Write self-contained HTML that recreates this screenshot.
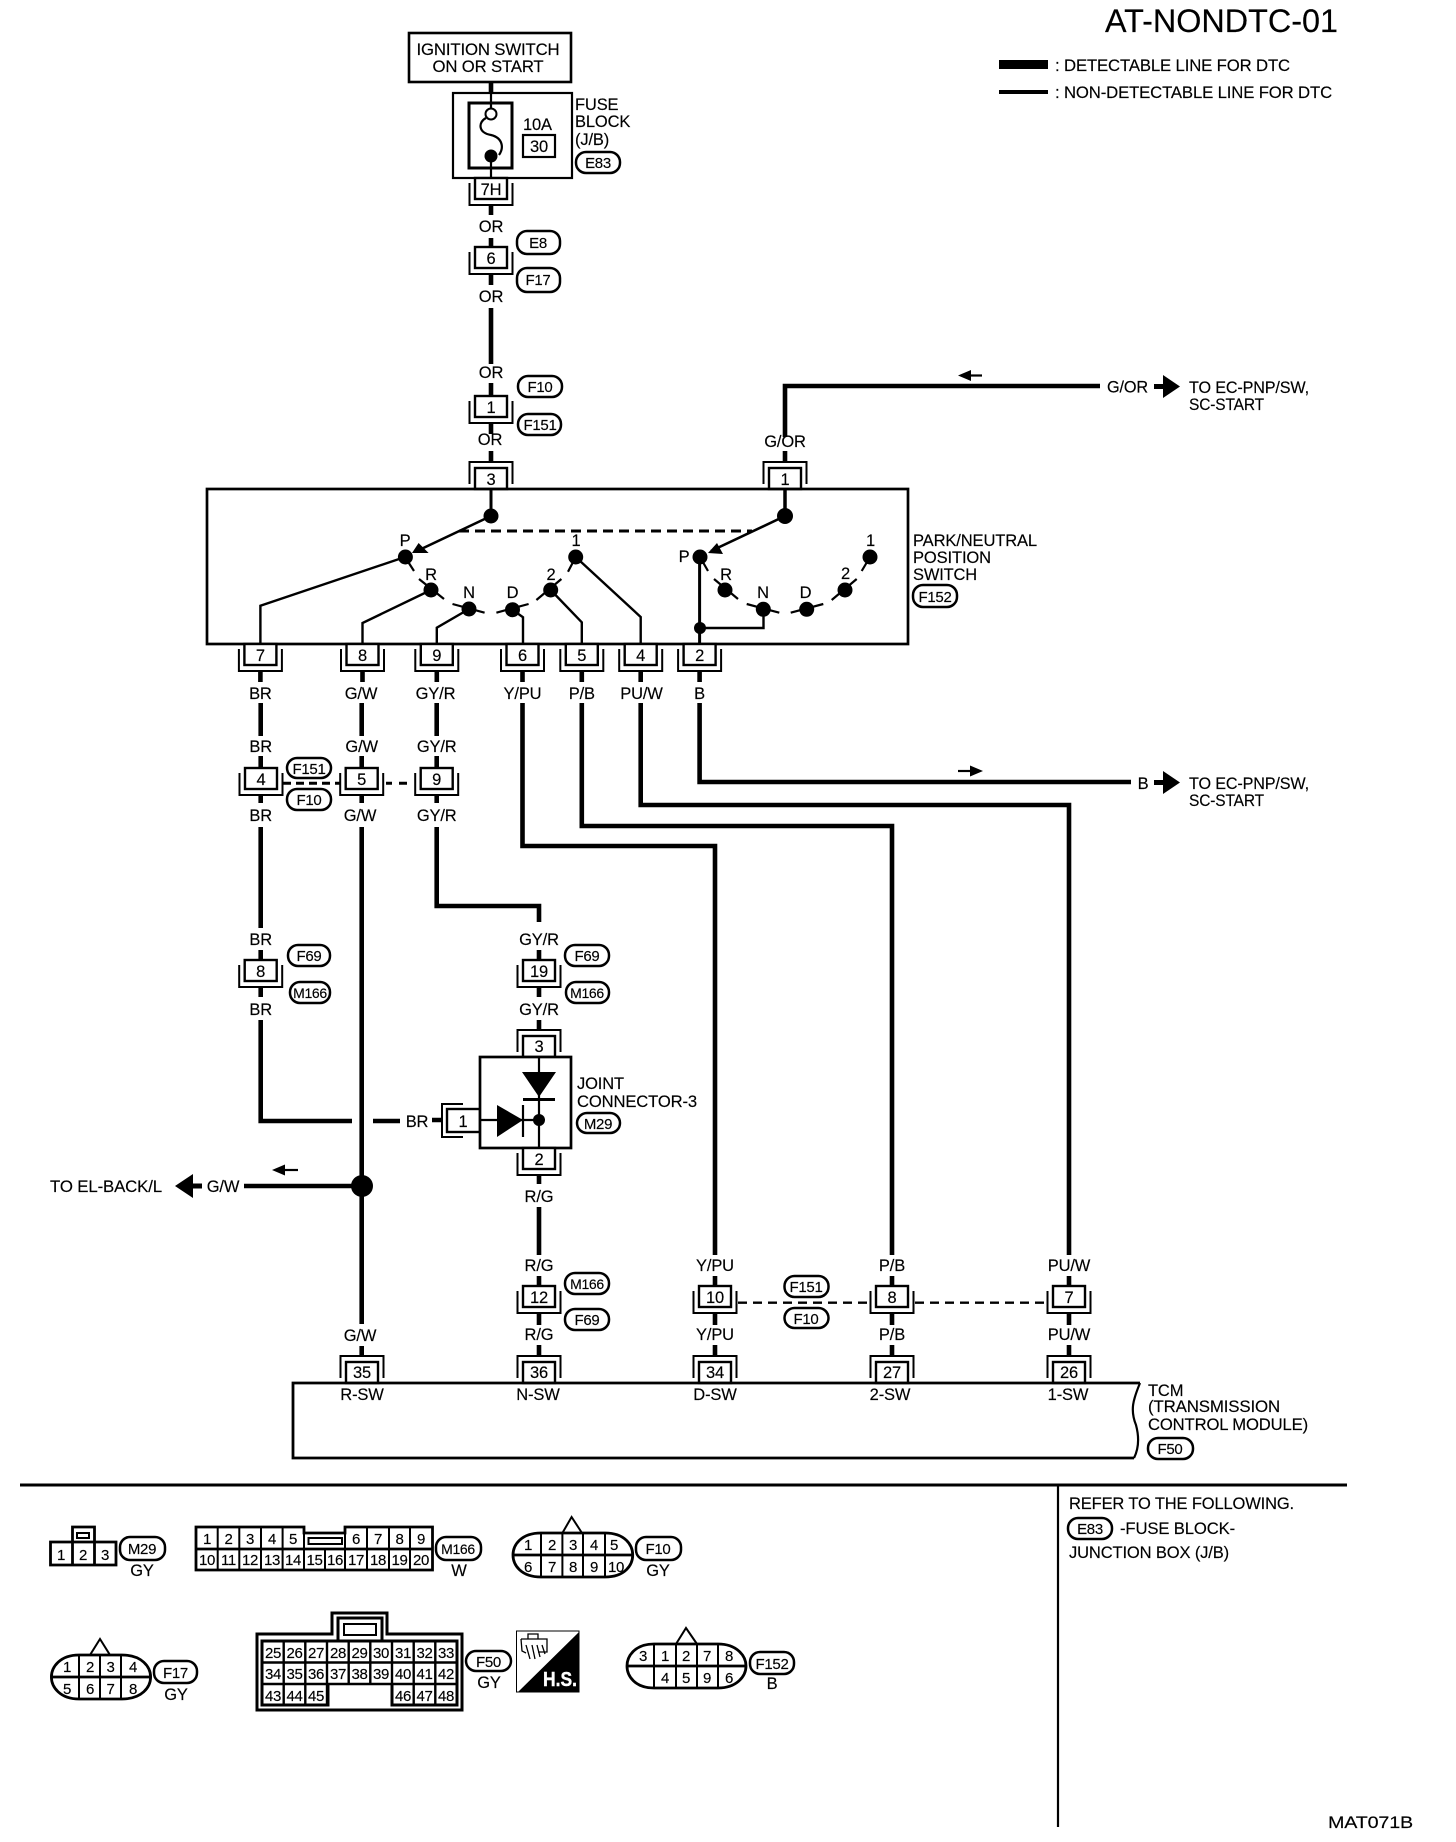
<!DOCTYPE html>
<html>
<head>
<meta charset="utf-8">
<style>
html,body{margin:0;padding:0;background:#fff}
svg{display:block}
text{font-family:"Liberation Sans",sans-serif;font-size:16.5px;letter-spacing:-.15px;fill:#000;stroke:#000;stroke-width:.15px}
.m{text-anchor:middle}
.s{font-size:15px;letter-spacing:-.3px}
.w{fill:none;stroke:#000;stroke-width:4.6}
.t{fill:none;stroke:#000;stroke-width:2.2}
.b{fill:none;stroke:#000;stroke-width:3}
.p{fill:#fff;stroke:#000;stroke-width:2.5}
.d{fill:#000;stroke:none}
.c rect{fill:#fff;stroke:#000;stroke-width:2.4}
.c path{fill:none;stroke:#000;stroke-width:2}
</style>
</head>
<body>
<svg xmlns="http://www.w3.org/2000/svg" width="1456" height="1842" viewBox="0 0 1456 1842">
<defs>
<g id="cd" class="c"><path d="M-21.5,5V27H21.5V5"/><rect x="-16" y="0" width="32" height="21"/></g>
<g id="cu" class="c"><path d="M-21.5,-5V-27H21.5V-5"/><rect x="-16" y="-21" width="32" height="21"/></g>
</defs>

<!-- header -->
<text x="1105" y="32" style="font-size:32px;letter-spacing:0" textLength="233" lengthAdjust="spacingAndGlyphs">AT-NONDTC-01</text>
<rect x="999" y="60" width="49" height="9" class="d"/>
<text x="1055" y="71" textLength="235" lengthAdjust="spacingAndGlyphs">: DETECTABLE LINE FOR DTC</text>
<rect x="999" y="90" width="49" height="4" class="d"/>
<text x="1055" y="98" textLength="277" lengthAdjust="spacingAndGlyphs">: NON-DETECTABLE LINE FOR DTC</text>

<!-- ignition + fuse -->
<rect x="409" y="33" width="162" height="49" fill="#fff" stroke="#000" stroke-width="2.6"/>
<text x="488" y="55" class="m" textLength="143" lengthAdjust="spacingAndGlyphs">IGNITION SWITCH</text>
<text x="488" y="72" class="m" textLength="111" lengthAdjust="spacingAndGlyphs">ON OR START</text>
<path d="M491,82V93" class="w"/>
<rect x="453" y="93" width="119" height="85" fill="#fff" stroke="#000" stroke-width="2.2"/>
<rect x="469" y="103" width="43" height="65" fill="#fff" stroke="#000" stroke-width="3"/>
<path d="M491,93V108M491,156V178" class="t"/>
<circle cx="491" cy="114" r="5.5" fill="#fff" stroke="#000" stroke-width="2"/>
<path d="M486,118C478,122 478,133 491,135C503,138 504,148 499,155" class="t"/>
<circle cx="491" cy="156" r="6.5" class="d"/>
<text x="523" y="130">10A</text>
<rect x="523" y="135" width="32" height="22" fill="#fff" stroke="#000" stroke-width="2.2"/>
<text x="539" y="152" class="m">30</text>
<text x="575" y="110">FUSE</text>
<text x="575" y="127">BLOCK</text>
<text x="575" y="145">(J/B)</text>
<rect x="576" y="152" width="44" height="21" rx="10" class="p"/>
<text x="598" y="168" class="m s">E83</text>

<!-- top wire OR -->
<use href="#cd" x="491" y="178"/>
<text x="491" y="195" class="m">7H</text>
<path d="M491,205V215M491,238V247" class="w"/>
<text x="491" y="232" class="m">OR</text>
<use href="#cd" x="491" y="247"/>
<text x="491" y="264" class="m">6</text>
<rect x="517" y="231" width="43" height="23" rx="10" class="p"/>
<text x="538" y="248" class="m s">E8</text>
<rect x="517" y="268" width="43" height="24" rx="10" class="p"/>
<text x="538" y="285" class="m s">F17</text>
<path d="M491,274V285M491,308V364" class="w"/>
<text x="491" y="302" class="m">OR</text>
<text x="491" y="378" class="m">OR</text>
<path d="M491,383V396" class="w"/>
<use href="#cd" x="491" y="396"/>
<text x="491" y="413" class="m">1</text>
<rect x="518" y="376" width="44" height="21" rx="10" class="p"/>
<text x="540" y="392" class="m s">F10</text>
<rect x="518" y="414" width="43" height="21" rx="10" class="p"/>
<text x="540" y="430" class="m s">F151</text>
<path d="M491,423V434M491,451V462" class="w"/>
<text x="490" y="445" class="m">OR</text>

<!-- G/OR -->
<path d="M785,437V386H1100M785,451V462" class="w"/>
<text x="785" y="447" class="m">G/OR</text>
<text x="1107" y="392.5" textLength="41" lengthAdjust="spacingAndGlyphs">G/OR</text>
<path d="M1154,384H1163V375L1180,386.5L1163,398V389H1154Z" class="d"/>
<text x="1189" y="393" textLength="120" lengthAdjust="spacingAndGlyphs">TO EC-PNP/SW,</text>
<text x="1189" y="410" textLength="75" lengthAdjust="spacingAndGlyphs">SC-START</text>
<path d="M982,375.5H968" class="t"/>
<path d="M958,375.5L971,370V381Z" class="d"/>

<!-- switch -->
<use href="#cu" x="491" y="489"/>
<text x="491" y="485" class="m">3</text>
<use href="#cu" x="785" y="489"/>
<text x="785" y="485" class="m">1</text>
<rect x="207" y="489" width="701" height="155" fill="none" stroke="#000" stroke-width="2.7"/>
<path d="M491,489V516" class="b"/>
<path d="M785,489V516" class="b" style="stroke-width:3.5"/>
<circle cx="491" cy="516" r="7.5" class="d"/>
<circle cx="785" cy="516" r="8" class="d"/>
<path d="M491,516L417,551M785,516L711,551" class="t" style="stroke-width:2.6"/>
<path d="M412,553L418.6,543L428.6,553Z M708,553L717,543L723,554Z" class="d"/>
<path d="M459,531H752" fill="none" stroke="#000" stroke-width="3" stroke-dasharray="10 6"/>
<!-- contacts -->
<g class="d">
<circle cx="405.4" cy="557" r="7.5"/><circle cx="431" cy="590" r="7.5"/><circle cx="469" cy="609" r="7.5"/>
<circle cx="512.5" cy="609.7" r="7.5"/><circle cx="550.7" cy="590" r="7.5"/><circle cx="575.7" cy="557" r="7.5"/>
<circle cx="700" cy="557" r="7.5"/><circle cx="725" cy="590" r="7.5"/><circle cx="763.3" cy="609.3" r="7.5"/>
<circle cx="806.7" cy="609.3" r="7.5"/><circle cx="845" cy="590" r="7.5"/><circle cx="870" cy="557" r="7.5"/>
<circle cx="700" cy="628" r="6"/>
</g>
<path d="M405,557L414,571M419,579L444,599M452.5,604L484.6,612.7M496.4,612.7L528.6,604M536.4,600L561.4,579M575.7,557L568,571.7" class="t"/>
<path d="M700,557L708,571M714,579L738,599M746.7,604L779.3,612.7M790.7,612.7L823.3,604M831.7,600L856.7,579M870,557L861.7,571" class="t"/>
<path d="M405,557L260.4,605.7V644M431,590L362.5,623V644M469,609L436.8,627.7V644M512.5,609.7L523,617.3V644M550.7,590L581.8,622.3V644M575.7,557L640.7,617V644" class="t" style="stroke-width:2.4"/>
<path d="M699.6,557V644" class="b"/>
<path d="M700,628H763.5V609" class="t" style="stroke-width:2.4"/>
<text x="405" y="546" class="m">P</text>
<text x="431" y="580" class="m">R</text>
<text x="469" y="598" class="m">N</text>
<text x="512.5" y="598" class="m">D</text>
<text x="551" y="580" class="m">2</text>
<text x="576" y="546" class="m">1</text>
<text x="684" y="562" class="m">P</text>
<text x="726" y="580" class="m">R</text>
<text x="763" y="598" class="m">N</text>
<text x="805.5" y="598" class="m">D</text>
<text x="845.5" y="579" class="m">2</text>
<text x="870.5" y="546" class="m">1</text>
<text x="913" y="546" textLength="124" lengthAdjust="spacingAndGlyphs">PARK/NEUTRAL</text>
<text x="913" y="563" textLength="78" lengthAdjust="spacingAndGlyphs">POSITION</text>
<text x="913" y="580" textLength="64" lengthAdjust="spacingAndGlyphs">SWITCH</text>
<rect x="913" y="585" width="44" height="22" rx="10" class="p"/>
<text x="935" y="602" class="m s">F152</text>

<!-- connectors under switch -->
<use href="#cd" x="260.4" y="644"/><text x="260.4" y="661" class="m">7</text>
<use href="#cd" x="362.5" y="644"/><text x="362.5" y="661" class="m">8</text>
<use href="#cd" x="436.8" y="644"/><text x="436.8" y="661" class="m">9</text>
<use href="#cd" x="522.5" y="644"/><text x="522.5" y="661" class="m">6</text>
<use href="#cd" x="581.8" y="644"/><text x="581.8" y="661" class="m">5</text>
<use href="#cd" x="640.7" y="644"/><text x="640.7" y="661" class="m">4</text>
<use href="#cd" x="699.6" y="644"/><text x="699.6" y="661" class="m">2</text>
<path d="M260.4,671V682M362.5,671V682M436.8,671V682M522.5,671V682M581.8,671V682M640.7,671V682M699.6,671V682" class="w"/>
<text x="260.4" y="699" class="m">BR</text>
<text x="361" y="699" class="m">G/W</text>
<text x="435.5" y="699" class="m">GY/R</text>
<text x="522.5" y="699" class="m">Y/PU</text>
<text x="581.8" y="699" class="m">P/B</text>
<text x="641.5" y="699" class="m">PU/W</text>
<text x="699.6" y="699" class="m">B</text>

<!-- B wire -->
<path d="M699.6,703V782H1131" class="w"/>
<text x="1143" y="789" class="m">B</text>
<path d="M1154,780H1163V771L1180,782.5L1163,794V785H1154Z" class="d"/>
<text x="1189" y="789" textLength="120" lengthAdjust="spacingAndGlyphs">TO EC-PNP/SW,</text>
<text x="1189" y="806" textLength="75" lengthAdjust="spacingAndGlyphs">SC-START</text>
<path d="M958,771H972" class="t"/>
<path d="M983,771L970,765.5V776.5Z" class="d"/>

<!-- long wires -->
<path d="M522.5,703V846H715V1255" class="w"/>
<path d="M581.8,703V826H892V1255" class="w"/>
<path d="M640.7,703V805H1069V1255" class="w"/>

<!-- row 4/5/9 -->
<path d="M260.7,703V736M361.7,703V736M436.7,703V736M260.7,756V767M361.7,756V767M436.7,756V767M260.7,794V803M361.7,794V803M436.7,794V803" class="w"/>
<text x="260.7" y="752" class="m">BR</text>
<text x="361.7" y="752" class="m">G/W</text>
<text x="436.7" y="752" class="m">GY/R</text>
<use href="#cd" x="261" y="768"/><text x="261" y="785" class="m">4</text>
<use href="#cd" x="361.7" y="768"/><text x="361.7" y="785" class="m">5</text>
<use href="#cd" x="436.7" y="768"/><text x="436.7" y="785" class="m">9</text>
<path d="M283,783.3H340" fill="none" stroke="#000" stroke-width="3" stroke-dasharray="8 5"/>
<path d="M386,783.3H392M399,783.3H407" fill="none" stroke="#000" stroke-width="3"/>
<rect x="287" y="758" width="44" height="20" rx="10" class="p"/>
<text x="309" y="774" class="m s">F151</text>
<rect x="287" y="789" width="44" height="21" rx="10" class="p"/>
<text x="309" y="805" class="m s">F10</text>
<text x="260.7" y="821" class="m">BR</text>
<text x="360" y="821" class="m">G/W</text>
<text x="436.7" y="821" class="m">GY/R</text>

<!-- BR down -->
<path d="M260.7,827V928M260.7,950V960M260.7,987V997M260.7,1020V1121H352M373,1121H400M432,1120H443" class="w"/>
<text x="260.7" y="945" class="m">BR</text>
<use href="#cd" x="260.7" y="960"/><text x="260.7" y="977" class="m">8</text>
<rect x="288" y="945" width="42" height="21" rx="10" class="p"/>
<text x="309" y="961" class="m s">F69</text>
<rect x="290" y="982" width="40" height="21" rx="10" class="p"/>
<text x="310" y="998" class="m s" style="font-size:14px">M166</text>
<text x="260.7" y="1015" class="m">BR</text>
<text x="417" y="1127" class="m">BR</text>

<!-- G/W -->
<path d="M361.7,827V1324M361.7,1346V1355M362,1186H244" class="w"/>
<circle cx="362" cy="1186" r="11" class="d"/>
<text x="223" y="1192" class="m">G/W</text>
<path d="M202,1183.5H193V1174L175,1186L193,1198V1188.5H202Z" class="d"/>
<text x="50" y="1192" textLength="112" lengthAdjust="spacingAndGlyphs">TO EL-BACK/L</text>
<path d="M298,1170H284" class="t"/>
<path d="M272,1170L285,1164.5V1175.5Z" class="d"/>
<text x="360" y="1341" class="m">G/W</text>

<!-- GY/R -->
<path d="M436.7,827V906H539V922M539,950V960M539,987V997M539,1020V1030" class="w"/>
<text x="539" y="945" class="m">GY/R</text>
<use href="#cd" x="539" y="960"/><text x="539" y="977" class="m">19</text>
<rect x="565" y="945" width="44" height="21" rx="10" class="p"/>
<text x="587" y="961" class="m s">F69</text>
<rect x="566" y="982" width="43" height="21" rx="10" class="p"/>
<text x="587" y="998" class="m s" style="font-size:14px">M166</text>
<text x="539" y="1015" class="m">GY/R</text>

<!-- joint connector -->
<use href="#cu" x="539" y="1057"/><text x="539" y="1052" class="m">3</text>
<g class="c">
<path d="M463,1104H442V1137H463"/>
<rect x="447" y="1109" width="33" height="23"/>
</g>
<text x="463" y="1127" class="m">1</text>
<rect x="480" y="1057" width="91" height="91" fill="#fff" stroke="#000" stroke-width="2.7"/>
<path d="M539,1057V1148M480,1120H539" class="t"/>
<path d="M522,1072H556L539,1097Z M497,1105V1137L523,1120Z" class="d"/>
<path d="M523,1099.5H555" class="b"/>
<path d="M523,1105V1137" class="t"/>
<circle cx="539" cy="1120" r="6" class="d"/>
<text x="577" y="1089">JOINT</text>
<text x="577" y="1107" textLength="120" lengthAdjust="spacingAndGlyphs">CONNECTOR-3</text>
<rect x="577" y="1113" width="43" height="20" rx="10" class="p"/>
<text x="598" y="1129" class="m s">M29</text>
<use href="#cd" x="539" y="1148"/><text x="539" y="1165" class="m">2</text>
<path d="M539,1175V1184M539,1207V1255M539,1276V1286M539,1313V1325M539,1345V1355" class="w"/>
<text x="539" y="1202" class="m">R/G</text>

<!-- row 12/10/8/7 -->
<text x="539" y="1271" class="m">R/G</text>
<text x="715" y="1271" class="m">Y/PU</text>
<text x="892" y="1271" class="m">P/B</text>
<text x="1069" y="1271" class="m">PU/W</text>
<path d="M715,1276V1286M892,1276V1286M1069,1276V1286M715,1313V1325M892,1313V1325M1069,1313V1325M715,1345V1355M892,1345V1355M1069,1345V1355" class="w"/>
<use href="#cd" x="539" y="1286"/><text x="539" y="1303" class="m">12</text>
<use href="#cd" x="715" y="1286"/><text x="715" y="1303" class="m">10</text>
<use href="#cd" x="892" y="1286"/><text x="892" y="1303" class="m">8</text>
<use href="#cd" x="1069" y="1286"/><text x="1069" y="1303" class="m">7</text>
<path d="M738,1302.7H870M915,1302.7H1045" fill="none" stroke="#000" stroke-width="2.4" stroke-dasharray="9 6"/>
<rect x="565" y="1273" width="44" height="21" rx="10" class="p"/>
<text x="587" y="1289" class="m s" style="font-size:14px">M166</text>
<rect x="565" y="1309" width="44" height="21" rx="10" class="p"/>
<text x="587" y="1325" class="m s">F69</text>
<rect x="784.5" y="1276" width="44" height="21" rx="10" class="p"/>
<text x="806" y="1292" class="m s">F151</text>
<rect x="784.5" y="1308" width="44" height="20" rx="10" class="p"/>
<text x="806" y="1324" class="m s">F10</text>
<text x="539" y="1340" class="m">R/G</text>
<text x="715" y="1340" class="m">Y/PU</text>
<text x="892" y="1340" class="m">P/B</text>
<text x="1069" y="1340" class="m">PU/W</text>

<!-- TCM -->
<use href="#cu" x="362" y="1383"/><text x="362" y="1378" class="m">35</text>
<use href="#cu" x="539" y="1383"/><text x="539" y="1378" class="m">36</text>
<use href="#cu" x="715" y="1383"/><text x="715" y="1378" class="m">34</text>
<use href="#cu" x="892" y="1383"/><text x="892" y="1378" class="m">27</text>
<use href="#cu" x="1069" y="1383"/><text x="1069" y="1378" class="m">26</text>
<path d="M1140,1383H293V1458H1134" fill="none" stroke="#000" stroke-width="2.8"/>
<path d="M1140,1383C1133,1400 1130,1410 1136,1425C1140,1440 1138,1450 1134,1458" class="t"/>
<text x="362" y="1400" class="m">R-SW</text>
<text x="538" y="1400" class="m">N-SW</text>
<text x="715" y="1400" class="m">D-SW</text>
<text x="890" y="1400" class="m">2-SW</text>
<text x="1068" y="1400" class="m">1-SW</text>
<text x="1148" y="1396">TCM</text>
<text x="1148" y="1412" textLength="132" lengthAdjust="spacingAndGlyphs">(TRANSMISSION</text>
<text x="1148" y="1430" textLength="160" lengthAdjust="spacingAndGlyphs">CONTROL MODULE)</text>
<rect x="1148" y="1438" width="45" height="21" rx="10" class="p"/>
<text x="1170" y="1454" class="m s">F50</text>

<!-- separators -->
<path d="M20,1485H1347" class="b"/>
<path d="M1058,1485V1827" class="t"/>
<text x="1069" y="1509" textLength="225" lengthAdjust="spacingAndGlyphs">REFER TO THE FOLLOWING.</text>
<rect x="1068" y="1518" width="44" height="21" rx="10" class="p"/>
<text x="1090" y="1534" class="m s">E83</text>
<text x="1120" y="1534" textLength="115" lengthAdjust="spacingAndGlyphs">-FUSE BLOCK-</text>
<text x="1069" y="1558" textLength="160" lengthAdjust="spacingAndGlyphs">JUNCTION BOX (J/B)</text>
<text x="1328" y="1828" textLength="85" lengthAdjust="spacingAndGlyphs">MAT071B</text>

<!-- M29 -->
<path d="M50.5,1542H116V1565H50.5ZM72.5,1542V1527H94.5V1542M72.5,1542V1565M94.5,1542V1565" fill="none" stroke="#000" stroke-width="2.8"/>
<rect x="77" y="1533" width="12" height="5" fill="none" stroke="#000" stroke-width="2"/>
<text x="61" y="1560" class="m s">1</text><text x="83" y="1560" class="m s">2</text><text x="105" y="1560" class="m s">3</text>
<rect x="120" y="1537" width="45" height="23" rx="10" class="p"/>
<text x="142" y="1554" class="m s">M29</text>
<text x="142" y="1576" class="m">GY</text>

<!-- M166 -->
<path d="M196,1527H304V1533H345V1527H432.5V1570H196ZM196,1549H432.5" fill="none" stroke="#000" stroke-width="2.8"/>
<path d="M217.7,1527V1570M239.3,1527V1570M261,1527V1570M282.6,1527V1570M304,1533V1570M325,1549V1570M345,1533V1570M367,1527V1570M389,1527V1570M410,1527V1570" fill="none" stroke="#000" stroke-width="2"/>
<rect x="308.5" y="1538" width="33.5" height="6" fill="none" stroke="#000" stroke-width="2"/>
<text x="207" y="1544" class="m s">1</text><text x="228.5" y="1544" class="m s">2</text><text x="250" y="1544" class="m s">3</text><text x="272" y="1544" class="m s">4</text><text x="293" y="1544" class="m s">5</text>
<text x="356" y="1544" class="m s">6</text><text x="378" y="1544" class="m s">7</text><text x="399.5" y="1544" class="m s">8</text><text x="421" y="1544" class="m s">9</text>
<text x="207" y="1565" class="m s">10</text><text x="228.5" y="1565" class="m s">11</text><text x="250" y="1565" class="m s">12</text><text x="272" y="1565" class="m s">13</text><text x="293" y="1565" class="m s">14</text><text x="314.5" y="1565" class="m s">15</text><text x="335" y="1565" class="m s">16</text><text x="356" y="1565" class="m s">17</text><text x="378" y="1565" class="m s">18</text><text x="399.5" y="1565" class="m s">19</text><text x="421" y="1565" class="m s">20</text>
<rect x="436" y="1537" width="45" height="23" rx="10" class="p"/>
<text x="458" y="1554" class="m s" style="font-size:14px">M166</text>
<text x="459" y="1576" class="m">W</text>

<!-- F10 -->
<path d="M541,1533H605C625,1533 632.7,1545 632.7,1555C632.7,1565 625,1577 605,1577H541C521,1577 513,1565 513,1555C513,1545 521,1533 541,1533ZM513,1555H632.7" fill="none" stroke="#000" stroke-width="2.8"/>
<path d="M541,1533V1577M562.4,1533V1577M583,1533V1577M605,1533V1577" fill="none" stroke="#000" stroke-width="2"/>
<path d="M562.4,1533L571.6,1517L582,1533" fill="none" stroke="#000" stroke-width="2"/>
<text x="528" y="1550" class="m s">1</text><text x="552" y="1550" class="m s">2</text><text x="573" y="1550" class="m s">3</text><text x="594" y="1550" class="m s">4</text><text x="614" y="1550" class="m s">5</text>
<text x="528" y="1572" class="m s">6</text><text x="552" y="1572" class="m s">7</text><text x="573" y="1572" class="m s">8</text><text x="594" y="1572" class="m s">9</text><text x="616" y="1572" class="m s">10</text>
<rect x="636" y="1537" width="45" height="23" rx="10" class="p"/>
<text x="658" y="1554" class="m s">F10</text>
<text x="658" y="1576" class="m">GY</text>

<!-- F17 -->
<path d="M79,1655H122C142,1655 150.6,1667 150.6,1677C150.6,1687 142,1699 122,1699H79C60,1699 51.4,1687 51.4,1677C51.4,1667 60,1655 79,1655ZM51.4,1677H150.6" fill="none" stroke="#000" stroke-width="2.8"/>
<path d="M79,1655V1699M100,1655V1699M121,1655V1699" fill="none" stroke="#000" stroke-width="2"/>
<path d="M90,1655L100,1639L110,1655" fill="none" stroke="#000" stroke-width="2"/>
<text x="67" y="1672" class="m s">1</text><text x="90" y="1672" class="m s">2</text><text x="110.5" y="1672" class="m s">3</text><text x="133" y="1672" class="m s">4</text>
<text x="67" y="1694" class="m s">5</text><text x="90" y="1694" class="m s">6</text><text x="110.5" y="1694" class="m s">7</text><text x="133" y="1694" class="m s">8</text>
<rect x="154" y="1661" width="43" height="22" rx="10" class="p"/>
<text x="175.5" y="1678" class="m s">F17</text>
<text x="176" y="1700" class="m">GY</text>

<!-- F50 -->
<path d="M257,1634H332V1613H387V1634H462V1710H257Z" fill="none" stroke="#000" stroke-width="3"/>
<path d="M338,1641V1618H382V1641" fill="none" stroke="#000" stroke-width="3"/>
<rect x="344" y="1624" width="32" height="11" fill="none" stroke="#000" stroke-width="2"/>
<path d="M328,1684V1705H262V1641H457V1705H392V1684" fill="none" stroke="#000" stroke-width="3"/>
<path d="M262,1662.5H457M262,1684H457M283.7,1641V1705M305.3,1641V1705M327,1641V1705M348.7,1641V1684M370.3,1641V1684M392,1641V1705M413.7,1641V1705M435.3,1641V1705" fill="none" stroke="#000" stroke-width="2.4"/>
<text x="273" y="1658" class="m s">25</text><text x="294.5" y="1658" class="m s">26</text><text x="316" y="1658" class="m s">27</text><text x="338" y="1658" class="m s">28</text><text x="359.5" y="1658" class="m s">29</text><text x="381" y="1658" class="m s">30</text><text x="403" y="1658" class="m s">31</text><text x="424.5" y="1658" class="m s">32</text><text x="446" y="1658" class="m s">33</text>
<text x="273" y="1679" class="m s">34</text><text x="294.5" y="1679" class="m s">35</text><text x="316" y="1679" class="m s">36</text><text x="338" y="1679" class="m s">37</text><text x="359.5" y="1679" class="m s">38</text><text x="381" y="1679" class="m s">39</text><text x="403" y="1679" class="m s">40</text><text x="424.5" y="1679" class="m s">41</text><text x="446" y="1679" class="m s">42</text>
<text x="273" y="1701" class="m s">43</text><text x="294.5" y="1701" class="m s">44</text><text x="316" y="1701" class="m s">45</text><text x="403" y="1701" class="m s">46</text><text x="424.5" y="1701" class="m s">47</text><text x="446" y="1701" class="m s">48</text>
<rect x="466" y="1651" width="45" height="20" rx="10" class="p"/>
<text x="488.5" y="1667" class="m s">F50</text>
<text x="489" y="1688" class="m">GY</text>
<rect x="516.5" y="1631" width="62.5" height="61" fill="#fff" stroke="#000" stroke-width="1"/>
<path d="M579,1632V1692H518Z" class="d"/>
<text x="543" y="1686" textLength="34" lengthAdjust="spacingAndGlyphs" style="fill:#fff;stroke:#fff;stroke-width:.4px;font-size:20px;font-weight:bold;letter-spacing:0">H.S.</text>
<path d="M528,1634H538V1639H528ZM521,1639H547V1652H538M521,1639L522,1651L526,1653M526,1645L530,1659M532,1645L535,1659M537,1645L540,1657M542,1645L545,1654" fill="none" stroke="#000" stroke-width="1.3"/>

<!-- F152 -->
<path d="M654,1644H718C737,1644 746,1656 746,1666C746,1676 737,1688 718,1688H654C635,1688 627,1676 627,1666C627,1656 635,1644 654,1644ZM627,1666H746" fill="none" stroke="#000" stroke-width="2.8"/>
<path d="M654,1644V1688M676,1644V1688M697,1644V1688M718,1644V1688" fill="none" stroke="#000" stroke-width="2"/>
<path d="M676,1644L686,1628L697,1644" fill="none" stroke="#000" stroke-width="2"/>
<text x="643" y="1661" class="m s">3</text><text x="665" y="1661" class="m s">1</text><text x="686" y="1661" class="m s">2</text><text x="707" y="1661" class="m s">7</text><text x="729" y="1661" class="m s">8</text>
<text x="665" y="1683" class="m s">4</text><text x="686" y="1683" class="m s">5</text><text x="707" y="1683" class="m s">9</text><text x="729" y="1683" class="m s">6</text>
<rect x="750" y="1652" width="44" height="22" rx="10" class="p"/>
<text x="772" y="1669" class="m s">F152</text>
<text x="772" y="1689" class="m">B</text>
</svg>
</body>
</html>
